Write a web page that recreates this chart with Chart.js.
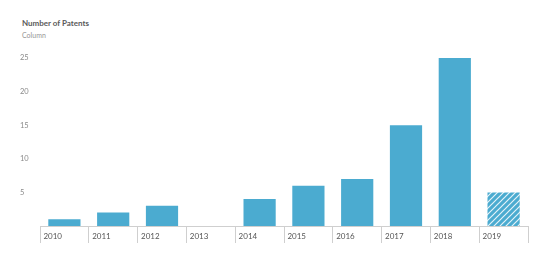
<!DOCTYPE html>
<html>
<head>
<meta charset="utf-8">
<script src="https://cdn.jsdelivr.net/npm/chart.js@4"></script>
<style>
  html, body { margin: 0; padding: 0; background: #fff; }
  #wrap { position: relative; width: 540px; height: 258px; }
  #title { position: absolute; left: 22px; top: 18px; font: bold 8px Lato, sans-serif; color: #5a5a5a; }
  #sub { position: absolute; left: 22px; top: 31px; font: 7px Lato, sans-serif; color: #959595; }
  canvas { position: absolute; left: 0; top: 0; }
</style>
</head>
<body>
<div id="wrap">
  <div id="title">Number of Patents</div>
  <div id="sub">Column</div>
  <canvas id="myChart" width="540" height="258"></canvas>
</div>
<script>
const years = ['2010', '2011', '2012', '2013', '2014', '2015', '2016', '2017', '2018', '2019'];
const patents = [1, 2, 3, 0, 4, 6, 7, 15, 25, 5];
const yTicks = [5, 10, 15, 20, 25];

const blue = '#4babd0';

// striped fill for the last (incomplete) year
function makeHatch() {
    const c = document.createElement('canvas');
    c.width = 6;
    c.height = 6;
    const g = c.getContext('2d');
    g.fillStyle = blue;
    g.fillRect(0, 0, 6, 6);
    g.strokeStyle = 'rgba(255,255,255,0.85)';
    g.lineWidth = 1.2;
    g.beginPath();
    g.moveTo(-1, 7); g.lineTo(7, -1);
    g.moveTo(-4, 4); g.lineTo(4, -4);
    g.moveTo(2, 10); g.lineTo(10, 2);
    g.stroke();
    return g.createPattern(c, 'repeat');
}
const hatch = makeHatch();

const ctx = document.getElementById('myChart').getContext('2d');
const myChart = new Chart(ctx, {
    type: 'bar',
    data: {
        labels: years,
        datasets: [{
            label: 'Number of Patents',
            data: patents,
            backgroundColor: patents.map((v, i) => i === patents.length - 1 ? hatch : blue),
            borderWidth: 0,
            categoryPercentage: 1,
            barPercentage: 0.66
        }]
    },
    options: {
        responsive: false,
        animation: false,
        layout: { padding: { left: 20, right: 12, top: 58, bottom: 0 } },
        plugins: {
            legend: { display: false },
            tooltip: { enabled: false }
        },
        scales: {
            y: {
                min: 0,
                max: 25,
                afterFit: (s) => { s.width = 20; },
                afterBuildTicks: (s) => { s.ticks = yTicks.map(v => ({ value: v })); },
                border: { display: false },
                grid: { display: false },
                ticks: {
                    crossAlign: 'far',
                    color: '#8a8a8a',
                    font: { family: 'Lato', size: 7.5 }
                }
            },
            x: {
                afterFit: (s) => { s.height = 32; },
                border: { display: true, color: '#cfcfcf', width: 1 },
                grid: {
                    offset: true,
                    drawOnChartArea: false,
                    drawTicks: true,
                    tickLength: 17,
                    color: (c) => c.index >= years.length ? 'rgba(0,0,0,0)' : '#cfcfcf'
                },
                ticks: {
                    align: 'start',
                    labelOffset: -21,
                    padding: -11,
                    color: '#555',
                    font: { family: 'Lato', size: 8 },
                    maxRotation: 0
                }
            }
        }
    }
});
</script>
</body>
</html>
